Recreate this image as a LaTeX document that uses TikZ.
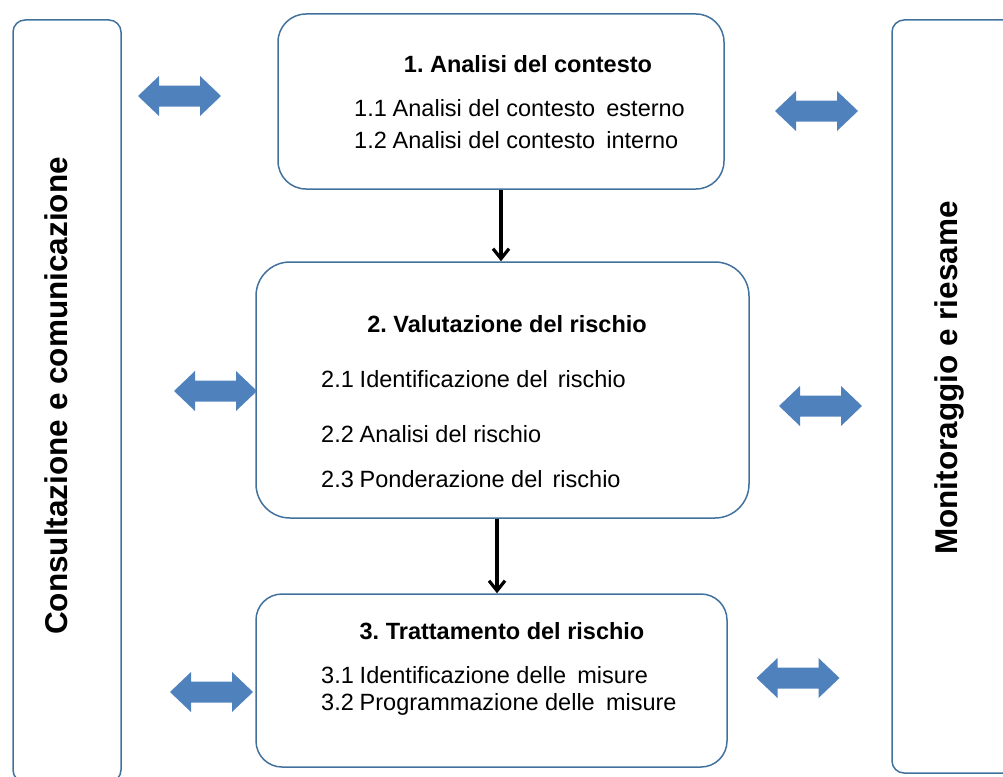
\documentclass[tikz,border=0pt]{standalone}
\usepackage{fontspec}
\setmainfont{Liberation Sans}
\usetikzlibrary{arrows.meta,calc}
\definecolor{boxline}{HTML}{41719C}
\definecolor{arrowblue}{HTML}{4F81BD}
\frenchspacing
\tikzset{
  phasebox/.style={draw=boxline, line width=1.5pt, rounded corners=#1, inner sep=0pt},
  sidebox/.style={draw=boxline, line width=1.5pt, rounded corners=12pt, inner sep=0pt},
  titletext/.style={font=\fontsize{23.5}{28}\selectfont\bfseries, anchor=base, inner sep=0pt},
  itemtext/.style={font=\fontsize{23.5}{28}\selectfont, anchor=base west, inner sep=0pt},
  sidetext/.style={font=\fontsize{31.5}{36}\selectfont\bfseries, rotate=90, anchor=base, inner sep=0pt},
  flow/.style={draw=black, line width=3.2pt, -{Straight Barb[length=10pt,width=16pt]}},
  pics/dblarrow/.style={code={
    \fill[arrowblue] (-41.5,0) -- (-20.5,-20) -- (-20.5,-10.5) -- (20.5,-10.5) -- (20.5,-20)
      -- (41.5,0) -- (20.5,20) -- (20.5,10.5) -- (-20.5,10.5) -- (-20.5,20) -- cycle;
  }}
}
\begin{document}
\begin{tikzpicture}[x=1pt, y=-1pt]
\useasboundingbox (0,0) rectangle (1003,776);
\clip (0,0) rectangle (1003,776);

% side boxes
\node[sidebox, minimum width=108pt, minimum height=762pt] (left) at (67,401) {};
\node[sidebox, minimum width=128pt, minimum height=753pt] (right) at (956,396.5) {};
\node[sidetext] (lefttxt) at (67,396) {Consultazione e comunicazione};
\node[sidetext] (righttxt) at (957,378) {Monitoraggio e riesame};

% phase boxes
\node[phasebox=28pt, minimum width=446pt, minimum height=175pt] (b1) at (501,101.5) {};
\node[phasebox=34pt, minimum width=493pt, minimum height=256pt] (b2) at (502.5,390) {};
\node[phasebox=26pt, minimum width=471pt, minimum height=173pt] (b3) at (491.5,680.5) {};

% texts box 1
\node[titletext] (t1) at (528,73) {1. Analisi del contesto};
\node[itemtext] (t11) at (354,116) {1.1\hspace{0.25em}Analisi del contesto\hspace{0.2em} esterno};
\node[itemtext] (t12) at (354,148) {1.2\hspace{0.25em}Analisi del contesto\hspace{0.2em} interno};

% texts box 2
\node[titletext] (t2) at (507,332) {2. Valutazione del rischio};
\node[itemtext] (t21) at (321,387) {2.1\hspace{0.25em}Identificazione del\hspace{0.15em} rischio};
\node[itemtext] (t22) at (321,442) {2.2\hspace{0.25em}Analisi del rischio};
\node[itemtext] (t23) at (321,487) {2.3\hspace{0.25em}Ponderazione del\hspace{0.15em} rischio};

% texts box 3
\node[titletext] (t3) at (502,639) {3. Trattamento del rischio};
\node[itemtext] (t31) at (321,683) {3.1\hspace{0.25em}Identificazione delle\hspace{0.2em} misure};
\node[itemtext] (t32) at (321,710) {3.2\hspace{0.25em}Programmazione delle\hspace{0.2em} misure};

% flow arrows
\draw[flow] (b1.south) -- (b1.south |- b2.north);
\coordinate (a2s) at ($(b2.south)+(-5.5,0)$);
\draw[flow] (a2s) -- (a2s |- b3.north);

% double block arrows
\pic (arrA) at (179.5,96) {dblarrow};
\pic (arrB) at (816.5,111) {dblarrow};
\pic (arrC) at (215.5,391) {dblarrow};
\pic (arrD) at (820.5,406) {dblarrow};
\pic (arrE) at (211.5,692) {dblarrow};
\pic (arrF) at (798,678) {dblarrow};
\end{tikzpicture}
\end{document}
